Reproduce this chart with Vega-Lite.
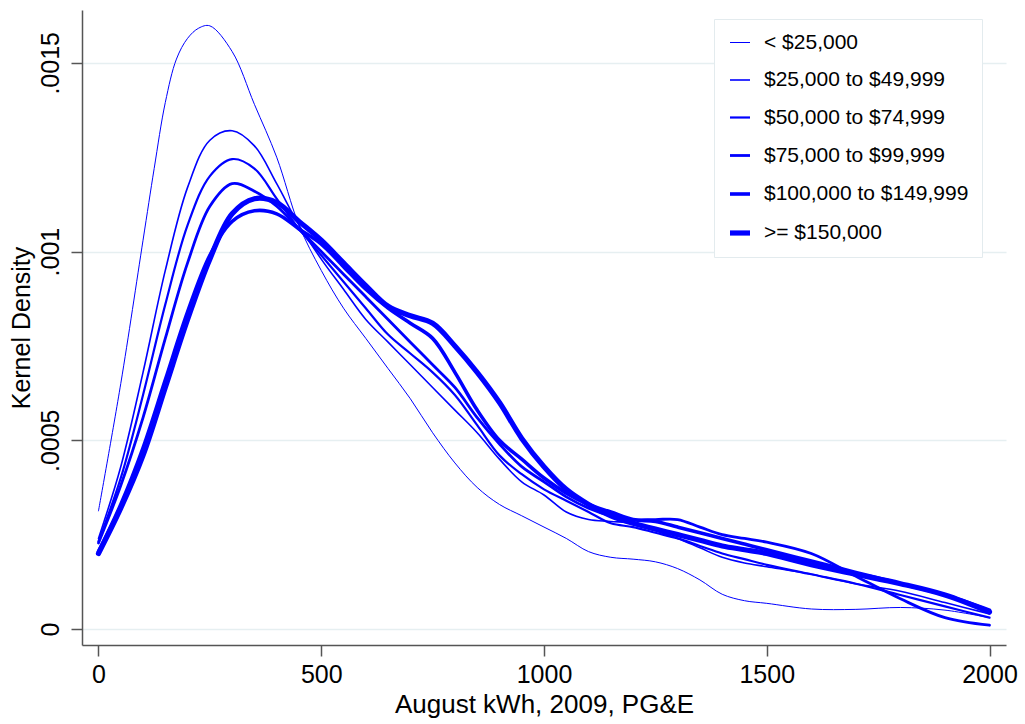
{
  "$schema": "https://vega.github.io/schema/vega-lite/v6.json",
  "width": 924,
  "height": 635,
  "autosize": {"type": "none"},
  "padding": {"left": 82, "top": 10, "right": 19, "bottom": 79},
  "background": "white",
  "config": {"view": {"stroke": null}, "font": "Liberation Sans"},
  "datasets": {
    "kd": [
      {"kwh":0,"lt25":0.000313,"b25":0.000240,"b50":0.000232,"b75":0.000228,"b100":0.000205,"ge150":0.000200},
      {"kwh":50,"lt25":0.000650,"b25":0.000430,"b50":0.000400,"b75":0.000380,"b100":0.000330,"ge150":0.000320},
      {"kwh":100,"lt25":0.001030,"b25":0.000680,"b50":0.000620,"b75":0.000560,"b100":0.000480,"ge150":0.000460},
      {"kwh":125,"lt25":0.001220},
      {"kwh":150,"lt25":0.001395,"b25":0.000950,"b50":0.000860,"b75":0.000770,"b100":0.000660,"ge150":0.000640},
      {"kwh":175,"lt25":0.001510},
      {"kwh":200,"lt25":0.001565,"b25":0.001170,"b50":0.001070,"b75":0.000970,"b100":0.000840,"ge150":0.000820},
      {"kwh":225,"lt25":0.001592},
      {"kwh":250,"lt25":0.001598,"b25":0.001295,"b50":0.001200,"b75":0.001120,"b100":0.000990,"ge150":0.000980},
      {"kwh":300,"lt25":0.001530,"b25":0.001320,"b50":0.001245,"b75":0.001180,"b100":0.001080,"ge150":0.001100},
      {"kwh":350,"lt25":0.001390,"b25":0.001280,"b50":0.001220,"b75":0.001160,"b100":0.001108,"ge150":0.001140},
      {"kwh":400,"lt25":0.001250,"b25":0.001180,"b50":0.001140,"b75":0.001120,"b100":0.001100,"ge150":0.001130},
      {"kwh":450,"lt25":0.001070,"b25":0.001070,"b50":0.001060,"b75":0.001060,"b100":0.001060,"ge150":0.001080},
      {"kwh":500,"lt25":0.000950,"b25":0.000980,"b50":0.000990,"b75":0.001000,"b100":0.001020,"ge150":0.001030},
      {"kwh":550,"lt25":0.000850,"b25":0.000900,"b50":0.000920,"b75":0.000940,"b100":0.000960,"ge150":0.000970},
      {"kwh":600,"lt25":0.000770,"b25":0.000820,"b50":0.000850,"b75":0.000880,"b100":0.000900,"ge150":0.000910},
      {"kwh":650,"lt25":0.000690,"b25":0.000760,"b50":0.000780,"b75":0.000820,"b100":0.000850,"ge150":0.000855},
      {"kwh":700,"lt25":0.000610,"b25":0.000700,"b50":0.000730,"b75":0.000760,"b100":0.000810,"ge150":0.000830},
      {"kwh":750,"lt25":0.000520,"b25":0.000640,"b50":0.000680,"b75":0.000700,"b100":0.000770,"ge150":0.000810},
      {"kwh":800,"lt25":0.000440,"b25":0.000580,"b50":0.000620,"b75":0.000640,"b100":0.000680,"ge150":0.000750},
      {"kwh":850,"lt25":0.000375,"b25":0.000520,"b50":0.000540,"b75":0.000560,"b100":0.000580,"ge150":0.000680},
      {"kwh":900,"lt25":0.000330,"b25":0.000450,"b50":0.000460,"b75":0.000490,"b100":0.000500,"ge150":0.000600},
      {"kwh":950,"lt25":0.000300,"b25":0.000390,"b50":0.000410,"b75":0.000430,"b100":0.000450,"ge150":0.000505},
      {"kwh":1000,"lt25":0.000270,"b25":0.000355,"b50":0.000370,"b75":0.000390,"b100":0.000400,"ge150":0.000430},
      {"kwh":1050,"lt25":0.000240,"b25":0.000310,"b50":0.000340,"b75":0.000350,"b100":0.000360,"ge150":0.000370},
      {"kwh":1100,"lt25":0.000205,"b25":0.000290,"b50":0.000310,"b75":0.000320,"b100":0.000330,"ge150":0.000330},
      {"kwh":1150,"lt25":0.000190,"b25":0.000285,"b50":0.000280,"b75":0.000300,"b100":0.000310,"ge150":0.000300},
      {"kwh":1200,"lt25":0.000185,"b25":0.000280,"b50":0.000270,"b75":0.000290,"b100":0.000290,"ge150":0.000280},
      {"kwh":1250,"lt25":0.000178,"b25":0.000260,"b50":0.000255,"b75":0.000290,"b100":0.000285,"ge150":0.000265},
      {"kwh":1300,"lt25":0.000160,"b25":0.000240,"b50":0.000240,"b75":0.000290,"b100":0.000270,"ge150":0.000250},
      {"kwh":1350,"lt25":0.000130,"b25":0.000215,"b50":0.000220,"b75":0.000270,"b100":0.000255,"ge150":0.000235},
      {"kwh":1400,"lt25":0.000092,"b25":0.000190,"b50":0.000200,"b75":0.000250,"b100":0.000240,"ge150":0.000220},
      {"kwh":1450,"lt25":0.000075,"b25":0.000175,"b50":0.000185,"b75":0.000240,"b100":0.000225,"ge150":0.000210},
      {"kwh":1500,"lt25":0.000068,"b25":0.000165,"b50":0.000170,"b75":0.000230,"b100":0.000210,"ge150":0.000200},
      {"kwh":1600,"lt25":0.000053,"b25":0.000145,"b50":0.000145,"b75":0.000200,"b100":0.000180,"ge150":0.000170},
      {"kwh":1700,"lt25":0.000052,"b25":0.000120,"b50":0.000120,"b75":0.000140,"b100":0.000150,"ge150":0.000145},
      {"kwh":1800,"lt25":0.000057,"b25":0.000100,"b50":0.000090,"b75":0.000080,"b100":0.000120,"ge150":0.000120},
      {"kwh":1900,"lt25":0.000050,"b25":0.000070,"b50":0.000060,"b75":0.000030,"b100":0.000090,"ge150":0.000090},
      {"kwh":2000,"lt25":0.000030,"b25":0.000040,"b50":0.000030,"b75":0.000010,"b100":0.000050,"ge150":0.000045}
    ]
  },
  "data": {"name": "kd"},
  "transform": [
    {"fold": ["lt25", "b25", "b50", "b75", "b100", "ge150"], "as": ["series", "density"]},
    {"filter": "isValid(datum.density)"}
  ],
  "mark": {"type": "line", "interpolate": "catmull-rom", "strokeCap": "round", "strokeJoin": "round"},
  "encoding": {
    "x": {
      "field": "kwh", "type": "quantitative",
      "scale": {"domain": [-37, 2037], "nice": false, "zero": false},
      "axis": {
        "values": [0, 500, 1000, 1500, 2000], "format": "d",
        "title": "August kWh, 2009, PG&E",
        "grid": false, "labelFontSize": 25, "titleFontSize": 26, "titleFontWeight": "normal",
        "tickSize": 11, "domainColor": "#555555", "tickColor": "#555555", "labelColor": "#000000", "titleColor": "#000000",
        "labelPadding": 6, "titlePadding": 4, "labelFlush": false, "domainWidth": 1.5, "tickWidth": 1.5
      }
    },
    "y": {
      "field": "density", "type": "quantitative",
      "scale": {"domain": [-0.0000424, 0.00164], "nice": false, "zero": false},
      "axis": {
        "values": [0, 0.0005, 0.001, 0.0015],
        "labelExpr": "datum.value == 0 ? '0' : replace(format(datum.value, '~g'), '0.', '.')",
        "labelAngle": -90, "labelAlign": "center", "labelBaseline": "bottom",
        "title": "Kernel Density",
        "grid": true, "gridColor": "#e6eff1", "gridWidth": 1.5,
        "labelFontSize": 25, "titleFontSize": 25, "titleFontWeight": "normal",
        "tickSize": 11, "domainColor": "#555555", "tickColor": "#555555", "labelColor": "#000000", "titleColor": "#000000",
        "labelPadding": 8, "titlePadding": 4, "domainWidth": 1.5, "tickWidth": 1.5
      }
    },
    "color": {
      "field": "series", "type": "nominal",
      "scale": {
        "type": "ordinal",
        "domain": ["lt25", "b25", "b50", "b75", "b100", "ge150"],
        "range": ["#0000ff", "#0000ff", "#0000ff", "#0000ff", "#0000ff", "#0000ff"]
      },
      "legend": {
        "orient": "none", "legendX": 632, "legendY": 9, "title": null,
        "padding": 13, "strokeColor": "#e3ebee", "fillColor": "#ffffff",
        "labelFontSize": 21, "labelColor": "#000000", "labelOffset": 11,
        "symbolType": "stroke", "symbolSize": 400, "rowPadding": 16, "labelLimit": 400,
        "labelExpr": "{'lt25': '< $25,000', 'b25': '$25,000 to $49,999', 'b50': '$50,000 to $74,999', 'b75': '$75,000 to $99,999', 'b100': '$100,000 to $149,999', 'ge150': '>= $150,000'}[datum.value]"
      }
    },
    "strokeWidth": {
      "field": "series", "type": "nominal",
      "scale": {
        "type": "ordinal",
        "domain": ["lt25", "b25", "b50", "b75", "b100", "ge150"],
        "range": [1, 1.6, 2.2, 2.8, 3.6, 5.2]
      },
      "legend": {
        "orient": "none", "legendX": 632, "legendY": 9, "title": null,
        "padding": 13, "strokeColor": "#e3ebee", "fillColor": "#ffffff",
        "labelFontSize": 21, "labelColor": "#000000", "labelOffset": 11,
        "symbolType": "stroke", "symbolSize": 400, "rowPadding": 16, "labelLimit": 400,
        "labelExpr": "{'lt25': '< $25,000', 'b25': '$25,000 to $49,999', 'b50': '$50,000 to $74,999', 'b75': '$75,000 to $99,999', 'b100': '$100,000 to $149,999', 'ge150': '>= $150,000'}[datum.value]"
      }
    }
  }
}
